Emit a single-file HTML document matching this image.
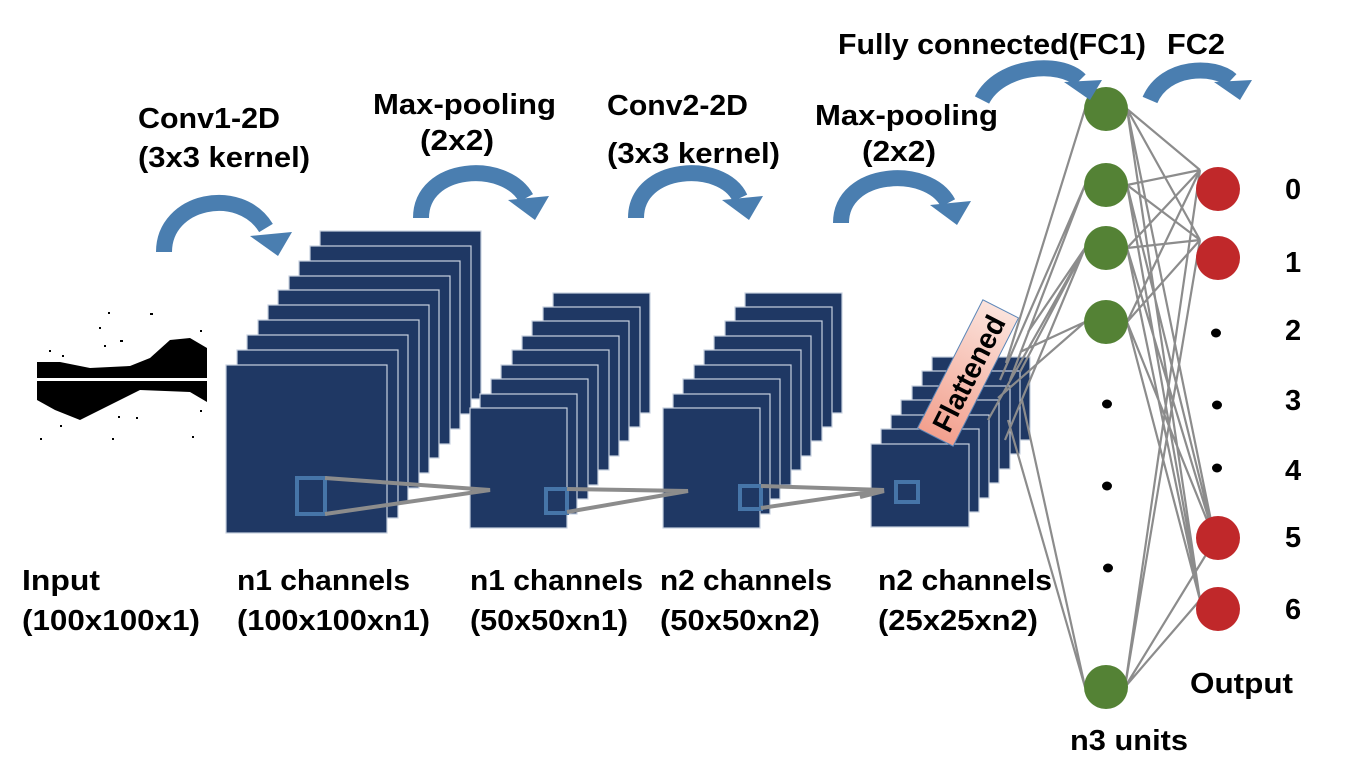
<!DOCTYPE html>
<html><head><meta charset="utf-8"><style>
html,body{margin:0;padding:0;background:#fff}
svg{display:block}
text{font-family:"Liberation Sans",sans-serif;font-weight:bold;font-size:29px;fill:#000}
</style></head><body>
<svg width="1347" height="774" viewBox="0 0 1347 774" xmlns="http://www.w3.org/2000/svg">
<defs>
<linearGradient id="pk" x1="0" y1="0" x2="1" y2="0"><stop offset="0" stop-color="#f2a08e"/><stop offset="1" stop-color="#fbe3dc"/></linearGradient>
</defs>
<g>
<path d="M37 362 L60 362 L90 368 L130 366 L150 358 L170 340 L190 338 L207 348 L207 402 L190 392 L140 390 L110 405 L80 420 L55 410 L37 400 Z" fill="#000"/>
<rect x="37" y="378" width="170" height="3" fill="#fff"/>
<g fill="#000">
<rect x="108" y="312" width="2" height="2"/><rect x="99" y="327" width="2" height="2"/><rect x="120" y="340" width="3" height="2"/><rect x="104" y="345" width="2" height="2"/><rect x="150" y="313" width="3" height="2"/><rect x="200" y="330" width="2" height="2"/><rect x="49" y="350" width="2" height="2"/><rect x="62" y="355" width="2" height="2"/><rect x="60" y="425" width="2" height="2"/><rect x="40" y="438" width="2" height="2"/><rect x="118" y="416" width="2" height="2"/><rect x="136" y="417" width="2" height="2"/><rect x="192" y="436" width="2" height="2"/><rect x="200" y="410" width="2" height="2"/><rect x="112" y="438" width="2" height="2"/>
</g>
</g>
<g fill="#1f3864" stroke="#c9d1df" stroke-width="1.2">
<rect x="320" y="231" width="161" height="168"/><rect x="310" y="246" width="161" height="168"/><rect x="299" y="261" width="161" height="168"/><rect x="289" y="276" width="161" height="168"/><rect x="278" y="290" width="161" height="168"/><rect x="268" y="305" width="161" height="168"/><rect x="258" y="320" width="161" height="168"/><rect x="247" y="335" width="161" height="168"/><rect x="237" y="350" width="161" height="168"/><rect x="226" y="365" width="161" height="168"/>
<rect x="553" y="293" width="97" height="120"/><rect x="543" y="307" width="97" height="120"/><rect x="532" y="321" width="97" height="120"/><rect x="522" y="336" width="97" height="120"/><rect x="512" y="350" width="97" height="120"/><rect x="501" y="365" width="97" height="120"/><rect x="491" y="379" width="97" height="120"/><rect x="480" y="394" width="97" height="120"/><rect x="470" y="408" width="97" height="120"/>
<rect x="745" y="293" width="97" height="120"/><rect x="735" y="307" width="97" height="120"/><rect x="725" y="321" width="97" height="120"/><rect x="714" y="336" width="97" height="120"/><rect x="704" y="350" width="97" height="120"/><rect x="694" y="365" width="97" height="120"/><rect x="683" y="379" width="97" height="120"/><rect x="673" y="394" width="97" height="120"/><rect x="663" y="408" width="97" height="120"/>
<rect x="932" y="357" width="98" height="83"/><rect x="922" y="371" width="98" height="83"/><rect x="912" y="386" width="98" height="83"/><rect x="901" y="400" width="98" height="83"/><rect x="891" y="415" width="98" height="83"/><rect x="881" y="429" width="98" height="83"/><rect x="871" y="444" width="98" height="83"/>
</g>
<g fill="none" stroke="#4675a8" stroke-width="4">
<rect x="297" y="478" width="28" height="36"/>
<rect x="546" y="489" width="21" height="24"/>
<rect x="740" y="486" width="21" height="23"/>
<rect x="896" y="482" width="22" height="20"/>
</g>
<g stroke="#8c8c8c" stroke-width="4" fill="none">
<path d="M325 478 L490 490 L325 514"/>
<path d="M567 489 L688 491 L567 512"/>
<path d="M761 486 L884 490 L761 508"/>
<path d="M860 497 L884 491"/>
</g>
<g transform="translate(968,373) rotate(-63)">
<rect x="-72" y="-20" width="144" height="40" fill="url(#pk)" stroke="#5b86b8" stroke-width="1"/>
<text x="0" y="11" text-anchor="middle" font-size="32" textLength="126" lengthAdjust="spacingAndGlyphs">Flattened</text>
</g>
<g stroke="#8c8c8c" stroke-width="2.2" fill="none">
<path d="M1006 363 L1085 109 M1000 380 L1085 185 M988 420 L1085 248 M998 398 L1085 322 M1020 352 L1085 322 M1028 332 L1085 248 M1008 420 L1085 687 M1022 400 L1085 687 M1005 440 L1085 248 M1010 380 L1085 185 M1020 372 L1085 248"/>
<path d="M1127 109 L1200 170 M1127 109 L1200 240 M1127 109 L1215 540 M1127 109 L1200 600 M1127 185 L1200 170 M1127 185 L1200 240 M1127 185 L1215 540 M1127 185 L1200 600 M1127 248 L1200 170 M1127 248 L1200 240 M1127 248 L1215 540 M1127 248 L1200 600 M1127 322 L1200 170 M1127 322 L1200 240 M1127 322 L1215 540 M1127 322 L1200 600 M1125 687 L1200 170 M1125 687 L1200 240 M1125 687 L1215 540 M1125 687 L1200 600"/>
</g>
<g fill="#548235">
<ellipse cx="1106" cy="109" rx="22" ry="22"/><ellipse cx="1106" cy="185" rx="22" ry="22"/><ellipse cx="1106" cy="248" rx="22" ry="22"/><ellipse cx="1106" cy="322" rx="22" ry="22"/><ellipse cx="1106" cy="687" rx="22" ry="22"/>
</g>
<g fill="#c0282a">
<ellipse cx="1218" cy="189" rx="22" ry="22"/><ellipse cx="1218" cy="258" rx="22" ry="22"/><ellipse cx="1218" cy="538" rx="22" ry="22"/><ellipse cx="1218" cy="609" rx="22" ry="22"/>
</g>
<g fill="#000">
<ellipse cx="1107" cy="404" rx="5" ry="4.5"/><ellipse cx="1107" cy="486" rx="5" ry="4.5"/><ellipse cx="1108" cy="568" rx="5" ry="4.5"/>
<ellipse cx="1216" cy="333" rx="5" ry="4.5"/><ellipse cx="1217" cy="405" rx="5" ry="4.5"/><ellipse cx="1217" cy="468" rx="5" ry="4.5"/>
</g>
<g fill="none" stroke="#4a7eb0" stroke-width="16">
<path d="M164 252 C164 200 240 185 266 228"/>
<path d="M421 218 C421 165 505 160 526 198"/>
<path d="M636 218 C636 165 722 160 740 198"/>
<path d="M841 223 C841 170 928 165 948 203"/>
<path d="M982 100 C1000 65 1060 60 1080 80"/>
<path d="M1150 100 C1165 65 1215 65 1231 80"/>
</g>
<g fill="#4a7eb0">
<polygon points="250,236 292,232 278,256"/>
<polygon points="508,200 549,196 535,220"/>
<polygon points="722,200 763,196 749,220"/>
<polygon points="930,205 971,201 957,225"/>
<polygon points="1064,82 1102,80 1090,100"/>
<polygon points="1214,82 1252,80 1240,100"/>
</g>
<text x="138" y="128" textLength="142" lengthAdjust="spacingAndGlyphs">Conv1-2D</text>
<text x="138" y="167" textLength="172" lengthAdjust="spacingAndGlyphs">(3x3 kernel)</text>
<text x="373" y="114" textLength="183" lengthAdjust="spacingAndGlyphs">Max-pooling</text>
<text x="420" y="150" textLength="74" lengthAdjust="spacingAndGlyphs">(2x2)</text>
<text x="607" y="115" textLength="141" lengthAdjust="spacingAndGlyphs">Conv2-2D</text>
<text x="607" y="163" textLength="173" lengthAdjust="spacingAndGlyphs">(3x3 kernel)</text>
<text x="815" y="125" textLength="183" lengthAdjust="spacingAndGlyphs">Max-pooling</text>
<text x="862" y="161" textLength="74" lengthAdjust="spacingAndGlyphs">(2x2)</text>
<text x="838" y="54" textLength="308" lengthAdjust="spacingAndGlyphs">Fully connected(FC1)</text>
<text x="1167" y="54" textLength="58" lengthAdjust="spacingAndGlyphs">FC2</text>
<text x="22" y="590" textLength="78" lengthAdjust="spacingAndGlyphs">Input</text>
<text x="22" y="630" textLength="178" lengthAdjust="spacingAndGlyphs">(100x100x1)</text>
<text x="237" y="590" textLength="173" lengthAdjust="spacingAndGlyphs">n1 channels</text>
<text x="237" y="630" textLength="193" lengthAdjust="spacingAndGlyphs">(100x100xn1)</text>
<text x="470" y="590" textLength="173" lengthAdjust="spacingAndGlyphs">n1 channels</text>
<text x="470" y="630" textLength="158" lengthAdjust="spacingAndGlyphs">(50x50xn1)</text>
<text x="660" y="590" textLength="172" lengthAdjust="spacingAndGlyphs">n2 channels</text>
<text x="660" y="630" textLength="160" lengthAdjust="spacingAndGlyphs">(50x50xn2)</text>
<text x="878" y="590" textLength="174" lengthAdjust="spacingAndGlyphs">n2 channels</text>
<text x="878" y="630" textLength="160" lengthAdjust="spacingAndGlyphs">(25x25xn2)</text>
<text x="1070" y="750" textLength="118" lengthAdjust="spacingAndGlyphs">n3 units</text>
<text x="1190" y="693" textLength="103" lengthAdjust="spacingAndGlyphs">Output</text>
<text x="1285" y="199">0</text>
<text x="1285" y="272">1</text>
<text x="1285" y="340">2</text>
<text x="1285" y="410">3</text>
<text x="1285" y="480">4</text>
<text x="1285" y="547">5</text>
<text x="1285" y="619">6</text>
</svg>
</body></html>
